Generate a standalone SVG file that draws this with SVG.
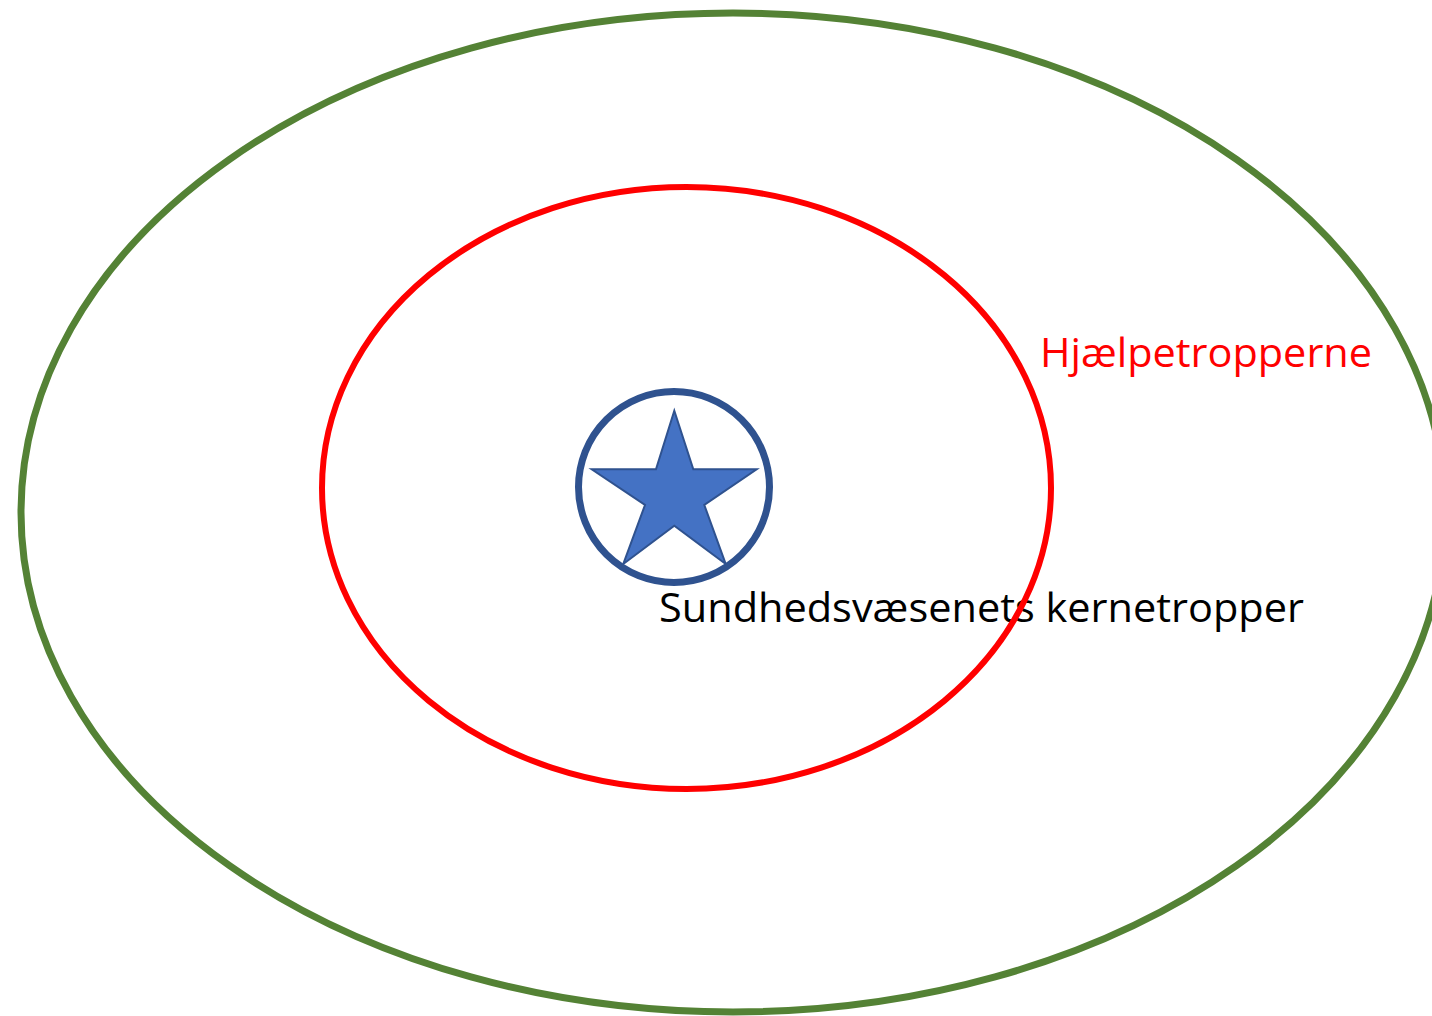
<svg xmlns="http://www.w3.org/2000/svg" width="1432" height="1016" viewBox="0 0 1432 1016">
<style>
.lbl{font-family:"Open Sans","Noto Sans","Liberation Sans",sans-serif;font-size:41px}
.ring{fill:none}
</style>
<rect width="1432" height="1016" fill="#ffffff"/>
<g id="outer-ring">
<ellipse class="ring" cx="733" cy="512.5" rx="712" ry="499.5" stroke="#548235" stroke-width="7"/>
</g>
<g id="label-core">
<text class="lbl" x="659" y="622" fill="#000000" textLength="645" lengthAdjust="spacingAndGlyphs">Sundhedsvæsenets kernetropper</text>
</g>
<g id="middle-ring">
<ellipse class="ring" cx="686.5" cy="488" rx="364.5" ry="301" stroke="#FF0000" stroke-width="6"/>
</g>
<g id="label-helpers">
<text class="lbl" x="1040" y="367" fill="#FF0000" textLength="332" lengthAdjust="spacingAndGlyphs">Hjælpetropperne</text>
</g>
<g id="core">
<circle cx="674" cy="487" r="95.5" fill="#ffffff" stroke="#2F528F" stroke-width="7"/>
<polygon points="674.3,410.7 693.3,469.3 756.7,469.3 704.3,505 725.7,564 674.3,525.7 623.3,564 645,505 591.7,469.3 656,469.3" fill="#4472C4" stroke="#2F528F" stroke-width="2" stroke-linejoin="miter"/>
</g>
<g id="connectors"></g>
</svg>
